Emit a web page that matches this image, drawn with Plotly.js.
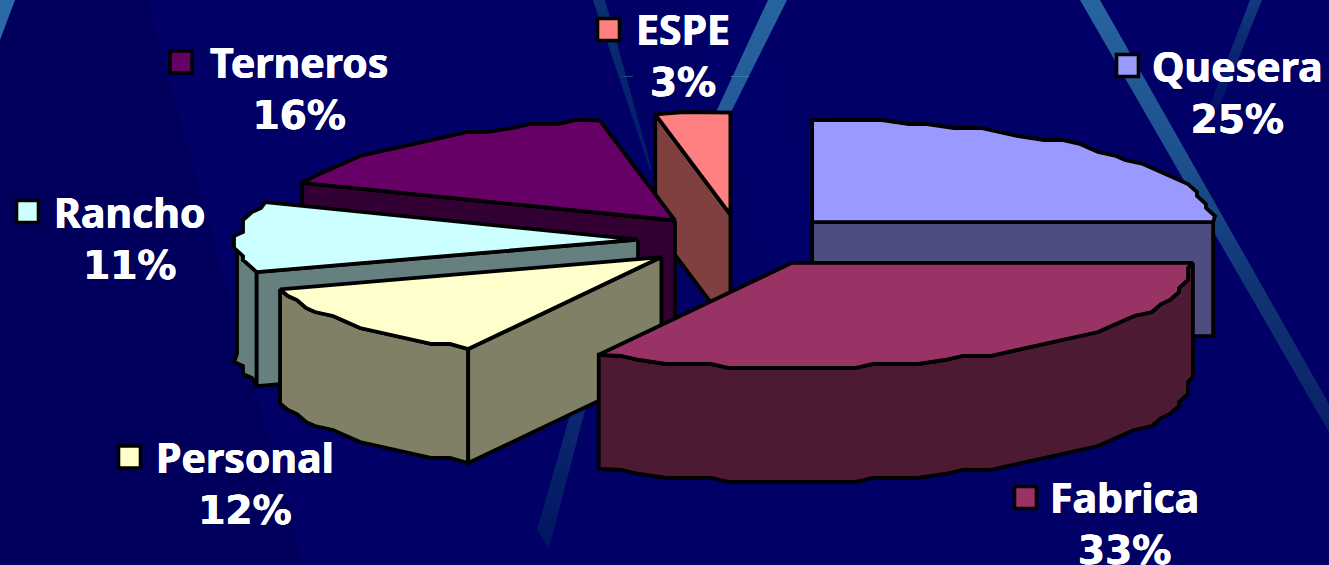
<!DOCTYPE html>
<html>
<head>
<meta charset="utf-8">
<script src="https://cdn.plot.ly/plotly-3.0.1.min.js"></script>
<style>html,body{margin:0;padding:0;background:#000066;overflow:hidden}</style>
</head>
<body>
<div id="chart" style="width:1329px;height:565px"></div>
<script>
// Budget shares, in drawing order clockwise from three o'clock
const categories = ["Fabrica", "Personal", "Rancho", "Terneros", "ESPE", "Quesera"];
const shares = [33, 12, 11, 16, 3, 25];
const topColors = ["#993366", "#FFFFCC", "#CCFFFF", "#660066", "#FF8080", "#9999FF"];
const keyX = [1025.5, 129.5, 27.5, 181, 608.5, 1127.5];
const keyY = [497.5, 457, 211.5, 62, 29.5, 65.5];
const labelX = [1124, 245, 130, 299, 683, 1237];
const labelY = [467, 427, 182, 32, 0, 36];
const labelNudge = [0, 0, 0, 0, 1, 0];

// Oblique pie projection; the near half of the ellipse is slightly deeper
const CX = 740, CY = 240.5, RX = 401, RY_BACK = 102, RY_FRONT = 105, DEPTH = 114, EXPLODE = 102;
const paintOrder = ["Quesera", "ESPE", "Terneros", "Rancho", "Personal", "Fabrica"];

const total = shares.reduce((a, b) => a + b, 0);
const rad = d => d * Math.PI / 180;
const ry = a => Math.sin(rad(a)) > 0 ? RY_FRONT : RY_BACK;

function darken(hex) {
  const n = parseInt(hex.slice(1), 16);
  const half = v => Math.round(v / 2);
  return `rgb(${half(n >> 16)},${half((n >> 8) & 255)},${half(n & 255)})`;
}

// The rim is coarsely stepped, as in a low-resolution rendered 3D pie
function rim(cx, cy, a0, a1) {
  const steps = Math.max(1, Math.round((a1 - a0) / 3.4));
  const pts = [];
  for (let i = 0; i <= steps; i++) {
    const a = a0 + (a1 - a0) * i / steps;
    let x = cx + RX * Math.cos(rad(a));
    let y = cy + ry(a) * Math.sin(rad(a));
    if (i > 0 && i < steps) {
      x = Math.round(x / 9) * 9;
      y = Math.round(y / 4) * 4;
    }
    pts.push([x, y]);
  }
  return pts;
}

function poly(pts, fill, name) {
  return {
    type: "scatter", mode: "lines", name,
    x: pts.map(p => p[0]).concat(pts[0][0]),
    y: pts.map(p => p[1]).concat(pts[0][1]),
    fill: "toself", fillcolor: fill,
    line: {color: "#000000", width: 3.8, shape: "linear"},
    hoverinfo: "skip", showlegend: false
  };
}

// Backdrop streaks and tonal panels; gradient stops run from the lower end upwards
function streak(xs, ys, stops) {
  const t = {
    type: "scatter", mode: "lines", x: xs, y: ys, fill: "toself",
    line: {width: 0, color: "rgba(0,0,0,0)"}, hoverinfo: "skip", showlegend: false
  };
  if (Array.isArray(stops)) t.fillgradient = {type: "vertical", colorscale: stops};
  else t.fillcolor = stops;
  return t;
}
const backdrop = [
  streak([147, 304, 0, 0], [0, 565, 565, 0], "#00005c"),
  streak([690, 770, 812, 812, 760], [0, 270, 270, 220, 0], "#00006a"),
  streak([0, 15, 0], [40, 0, 0], "#2a6aa6"),
  streak([593, 605, 652, 650], [0, 0, 170, 170], [[0, "#001a68"], [1, "#0c3074"]]),
  streak([768, 787, 731, 716], [0, 0, 112, 112], [[0, "#235a98"], [1, "#27649f"]]),
  streak([1080, 1100, 1329, 1329], [0, 0, 404, 432],
    [[0, "#0a2068"], [0.35, "#113574"], [0.6, "#1c4e8c"], [1, "#27649f"]]),
  streak([1250, 1262, 1218, 1208], [0, 0, 110, 110], [[0, "#001066"], [1, "#123a7c"]]),
  streak([580, 593, 549, 537], [380, 380, 548, 530], [[0, "#001560"], [1, "#0f2c74"]]),
  streak([622, 633, 633, 622], [76, 76, 77, 77], "#1c4a8c"),
  streak([731, 749, 749, 731], [76, 76, 77, 77], "#3a78b4")
];

const slices = {};
let cum = 0;
categories.forEach((name, i) => {
  const a0 = cum / total * 360;
  cum += shares[i];
  const a1 = cum / total * 360;
  const mid = rad((a0 + a1) / 2);
  slices[name] = {
    a0, a1, color: topColors[i],
    cx: CX + EXPLODE * Math.cos(mid),
    cy: CY + EXPLODE * RY_BACK / RX * Math.sin(mid)
  };
});

const sliceTraces = [];
paintOrder.forEach(name => {
  const s = slices[name];
  const side = darken(s.color);
  const apex = [s.cx, s.cy];
  const lower = p => [p[0], p[1] + DEPTH];
  const radial = a => [s.cx + RX * Math.cos(rad(a)), s.cy + ry(a) * Math.sin(rad(a))];

  // Outer wall: only the part of the rim facing the viewer
  const w0 = Math.max(s.a0, 0), w1 = Math.min(s.a1, 180);
  if (w1 > w0) {
    const edge = rim(s.cx, s.cy, w0, w1);
    sliceTraces.push(poly(edge.concat(edge.map(lower).reverse()), side, name + " wall"));
  }
  // Cut faces that turn towards the viewer
  for (const a of [s.a0, s.a1]) {
    const visible = a === s.a0 ? Math.cos(rad(a)) < -1e-6 : Math.cos(rad(a)) > 1e-6;
    if (visible) {
      const e = radial(a);
      sliceTraces.push(poly([apex, e, lower(e), lower(apex)], side, name + " face"));
    }
  }
  sliceTraces.push(poly([apex].concat(rim(s.cx, s.cy, s.a0, s.a1)), s.color, name));
});

const keys = {
  type: "scatter", mode: "markers", x: keyX, y: keyY, text: categories,
  marker: {symbol: "square", size: 22, color: topColors, line: {color: "#000000", width: 3.6}},
  hoverinfo: "text", showlegend: false
};

const annotations = categories.map((name, i) => ({
  xref: "x", yref: "y", x: labelX[i], y: labelY[i], yshift: labelNudge[i],
  xanchor: "center", yanchor: "top", align: "center", showarrow: false,
  text: `<b><span style="font-family:'Noto Sans';font-size:41px">${name}</span><br>${shares[i]}%</b>`,
  font: {family: "'DejaVu Sans', sans-serif", size: 39, color: "#FFFFFF",
         shadow: "0.4px 0 0 #fff, -0.4px 0 0 #fff"}
}));

Plotly.newPlot("chart", backdrop.concat(sliceTraces, [keys]), {
  width: 1329, height: 565,
  margin: {l: 0, r: 0, t: 0, b: 0},
  paper_bgcolor: "#000066", plot_bgcolor: "#000066",
  xaxis: {range: [0, 1329], visible: false, fixedrange: true},
  yaxis: {range: [565, 0], visible: false, fixedrange: true},
  showlegend: false,
  annotations
}, {displayModeBar: false, staticPlot: true});
</script>
</body>
</html>
